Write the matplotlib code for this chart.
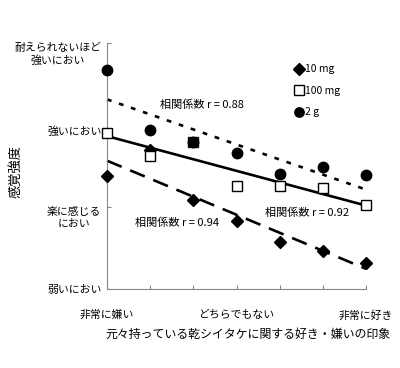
import numpy as np
import matplotlib
matplotlib.use("Agg")
import matplotlib.pyplot as plt
from matplotlib.transforms import ScaledTranslation

plt.rcParams['font.family'] = ['Noto Sans CJK JP', 'DejaVu Sans']

# 好き嫌いの印象 (1 = 非常に嫌い ... 7 = 非常に好き)
x = np.arange(1, 8)
# 感覚強度 (0 = 弱いにおい ... 100 = 耐えられないほど強いにおい)
y_10mg = [45.9, 56.5, 36.2, 27.6, 19.1, 15.4, 10.6]
y_100mg = [63.4, 54.1, 59.8, 41.9, 41.9, 41.1, 34.1]
y_2g = [89.0, 64.6, 59.8, 55.3, 46.7, 49.6, 46.3]

ytick_pos = [0, 33.3, 64.6, 100]
ytick_lab = ['弱いにおい', '楽に感じる\nにおい', '強いにおい', '耐えられないほど\n強いにおい']
xtick_lab = ['非常に嫌い', '', '', 'どちらでもない', '', '', '非常に好き']
r_text = ['相関係数 r = 0.94', '相関係数 r = 0.92', '相関係数 r = 0.88']

fig = plt.figure(figsize=(4, 3.68), dpi=100)
ax = fig.add_axes([0.2675, 0.2147, 0.6475, 0.6683])

# 回帰直線
xx = np.array([1, 7])
for ys, ls in [(y_10mg, (0, (6, 3.5))), (y_100mg, '-'), (y_2g, (0, (1.8, 3.0)))]:
    k, b = np.polyfit(x, ys, 1)
    ax.plot(xx, k * xx + b, color='black', lw=1.9, ls=ls, clip_on=False, zorder=2)

ax.plot(x, y_10mg, 'D', color='black', ms=6.5, ls='none', label='10 mg', clip_on=False, zorder=3)
ax.plot(x, y_100mg, 's', mfc='white', mec='black', mew=1.0, ms=7.5, ls='none', label='100 mg', clip_on=False, zorder=3)
ax.plot(x, y_2g, 'o', color='black', ms=7.5, ls='none', label='2 g', clip_on=False, zorder=4)

ax.text(2.62, 26.8, r_text[0], fontsize=8, ha='center', va='center')
ax.text(5.63, 30.9, r_text[1], fontsize=8, ha='center', va='center')
ax.text(3.20, 74.8, r_text[2], fontsize=8, ha='center', va='center')

ax.set_xlim(1, 7)
ax.set_ylim(0, 100)
ax.set_xticks(x)
ax.set_xticklabels(xtick_lab, fontsize=7.8)
ax.set_yticks(ytick_pos)
ax.set_yticklabels(ytick_lab, fontsize=7.8, multialignment='center')
for lab in ax.get_yticklabels():
    if '\n' in lab.get_text():
        lab.set_verticalalignment('top')
        lab.set_transform(lab.get_transform() + ScaledTranslation(0, 6 / 72, fig.dpi_scale_trans))

ax.tick_params(axis='x', direction='in', length=3, pad=15, color='#888888')
ax.tick_params(axis='y', direction='in', length=3, pad=4, color='#888888')
for s in ['top', 'right']:
    ax.spines[s].set_visible(False)
for s in ['left', 'bottom']:
    ax.spines[s].set_color('#888888')
    ax.spines[s].set_linewidth(0.8)

leg = ax.legend(loc='upper left', bbox_to_anchor=(0.713, 0.93), frameon=False, fontsize=7.5,
                handlelength=0.6, handletextpad=0.3, labelspacing=1.1, borderaxespad=0,
                markerscale=0.9)

fig.text(16 / 400, 1 - 171 / 368, '感覚強度', rotation=90, fontsize=9.5, ha='center', va='center')
fig.text(248 / 400, 1 - 334 / 368, '元々持っている乾シイタケに関する好き・嫌いの印象', fontsize=8.6, ha='center', va='center')

fig.savefig('out.png', dpi=100)
